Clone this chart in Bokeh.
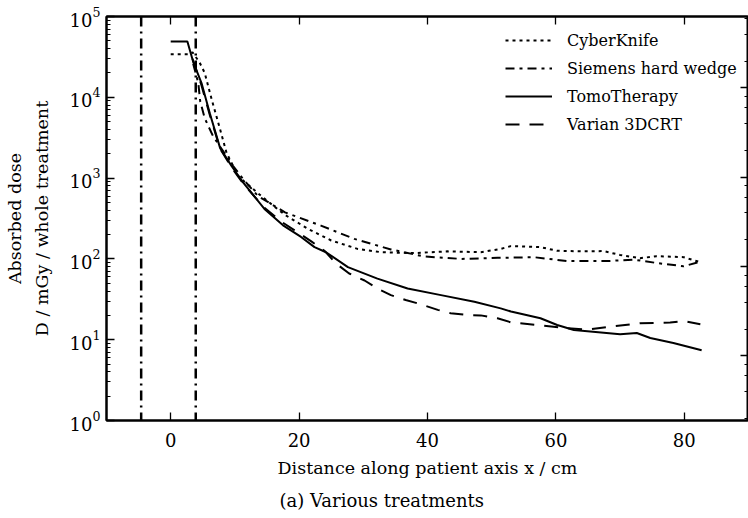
from bokeh.plotting import figure
from bokeh.models import (Span, Legend, LegendItem, LogAxis, LinearAxis, Range1d,
                          LogScale, Title, FixedTicker, CustomJSTickFormatter)
from bokeh.embed import file_html
from bokeh.resources import INLINE

# ---- data ----
cyber_x = [0, 2.8, 3.4, 4.5, 5.3, 6.4, 7.7, 8.7, 10.5, 14.1, 17.8, 21.4, 25.0, 29.1,
           32.8, 37.9, 43.1, 48.3, 51.4, 53.0, 57.6, 60.2, 64.3, 67.4, 70.0, 73.1,
           75.7, 79.9, 82.5]
cyber_y = [34000, 34000, 36000, 27000, 20000, 9300, 4000, 2050, 1060, 600, 350, 235,
           169, 133, 121, 118, 124, 121, 133, 144, 140, 126, 124, 125, 112, 102, 108,
           105, 91]

siemens_x = [3.5, 4.3, 4.6, 5.3, 6.6, 9.7, 11.3, 13.6, 17.8, 23.4, 28.6, 34.3, 39.5,
             45.2, 50.9, 56.6, 61.8, 68.0, 72.1, 75.7, 79.9, 82.2]
siemens_y = [26000, 15000, 8900, 5500, 3300, 1420, 970, 600, 377, 258, 177, 131, 107,
             100, 103, 105, 94, 94, 98, 89, 81, 91]

tomo_x = [0, 2.6, 3.5, 4.8, 6.1, 7.7, 9.5, 11.3, 14.6, 17.5, 20.3, 22.4, 24.2, 27.6,
          32.2, 36.9, 42.1, 47.3, 51.4, 53.0, 57.6, 60.2, 62.8, 70.0, 72.6, 74.7,
          78.3, 82.7]
tomo_y = [49000, 49000, 27500, 15000, 6300, 2350, 1400, 880, 415, 260, 187, 140, 121,
          79, 57, 43, 35.6, 29.5, 24.4, 22.3, 18.4, 15.2, 13.2, 11.7, 12.1, 10.5, 9.1,
          7.4]

varian_x = [3.4, 4.8, 6.1, 7.7, 9.5, 11.3, 14.6, 17.2, 21.9, 24.0, 25.8, 27.8, 30.2,
            32.2, 34.3, 36.6, 39.0, 41.6, 43.6, 46.2, 48.3, 50.9, 53.0, 57.1, 61.8,
            64.9, 68.5, 73.1, 77.8, 79.9, 82.5]
varian_y = [30000, 14000, 6000, 2300, 1350, 850, 430, 290, 165, 125, 87, 66, 54, 43,
            35.6, 31, 27.4, 23.4, 21.3, 20.2, 20.0, 18.4, 16.4, 15.2, 13.9, 13.3, 14.5,
            16.0, 16.3, 17.0, 15.5]

field_edges = [-4.6, 3.9]
x_ticks = [0, 20, 40, 60, 80]
series_names = ["CyberKnife", "Siemens hard wedge", "TomoTherapy", "Varian 3DCRT"]
caption_text = "(a) Various treatments"

FONT = "DejaVu Serif"

p = figure(width=748, height=518, y_axis_type="log", x_range=(-10, 90),
           y_range=(1, 1e5), output_backend="svg", toolbar_location=None,
           min_border_left=106, min_border_right=0, min_border_top=16,
           min_border_bottom=0, background_fill_color="white",
           border_fill_color="white")
xax = p.below[0]
yax = p.left[0]
p.xgrid.visible = False
p.ygrid.visible = False
p.outline_line_color = "black"
p.outline_line_width = 2

# right log axis (twin scale, its labels are cut off in the reference)
p.extra_y_ranges = {"r": Range1d(10 ** -0.722, 10 ** 3.8)}
p.extra_y_scales = {"r": LogScale()}
rax = LogAxis(y_range_name="r", formatter=CustomJSTickFormatter(code="return ''"))
p.add_layout(rax, "right")
tax = LinearAxis(ticker=FixedTicker(ticks=x_ticks, minor_ticks=[]),
                 formatter=CustomJSTickFormatter(code="return ''"))
p.add_layout(tax, "above")

xax.ticker = FixedTicker(ticks=x_ticks, minor_ticks=[])
for ax in [xax, yax, rax, tax]:
    ax.axis_line_width = 2
    ax.major_tick_in = 8
    ax.major_tick_out = 0
    ax.minor_tick_in = 4
    ax.minor_tick_out = 0
    ax.major_tick_line_width = 1.3
    ax.minor_tick_line_width = 1
    ax.major_label_text_font = FONT
    ax.major_label_text_font_size = "18px"
    ax.major_label_text_color = "black"
    ax.axis_label_text_font = FONT
    ax.axis_label_text_font_style = "normal"
    ax.axis_label_text_font_size = "17.5px"
    ax.axis_label_text_color = "black"
for ax in [rax, tax]:
    ax.major_label_standoff = 0

xax.major_label_standoff = 12
yax.major_label_standoff = 6
xax.axis_label = "Distance along patient axis x / cm"
xax.axis_label_standoff = 8
yax.axis_label = "Absorbed dose\nD / mGy / whole treatment"
yax.axis_label_standoff = 15
yax.axis_label_text_line_height = 1.35

lw = 2
r1 = p.line(cyber_x, cyber_y, line_color="black", line_width=lw, line_dash="3 4")
r2 = p.line(siemens_x, siemens_y, line_color="black", line_width=lw, line_dash="9 5 3 5")
r3 = p.line(tomo_x, tomo_y, line_color="black", line_width=lw)
r4 = p.line(varian_x, varian_y, line_color="black", line_width=lw, line_dash="14 10")

for loc in field_edges:
    p.add_layout(Span(location=loc, dimension="height", line_color="black",
                      line_width=2.5, line_dash="10 5 2 5"))

legend = Legend(items=[LegendItem(label=n, renderers=[r]) for n, r in
                       zip(series_names, [r1, r2, r3, r4])],
                location=(399, 286), border_line_color=None,
                background_fill_alpha=0, glyph_width=47, glyph_height=20,
                label_height=20, spacing=8, padding=10, label_standoff=15,
                label_text_font=FONT, label_text_font_size="16px",
                label_text_color="black")
p.add_layout(legend, "center")

cap = Title(text=caption_text, align="left", offset=173, text_font=FONT,
            text_font_size="18px", text_font_style="normal", text_color="black",
            standoff=15)
p.add_layout(cap, "below")

open("out.html", "w").write(file_html(p, INLINE))
